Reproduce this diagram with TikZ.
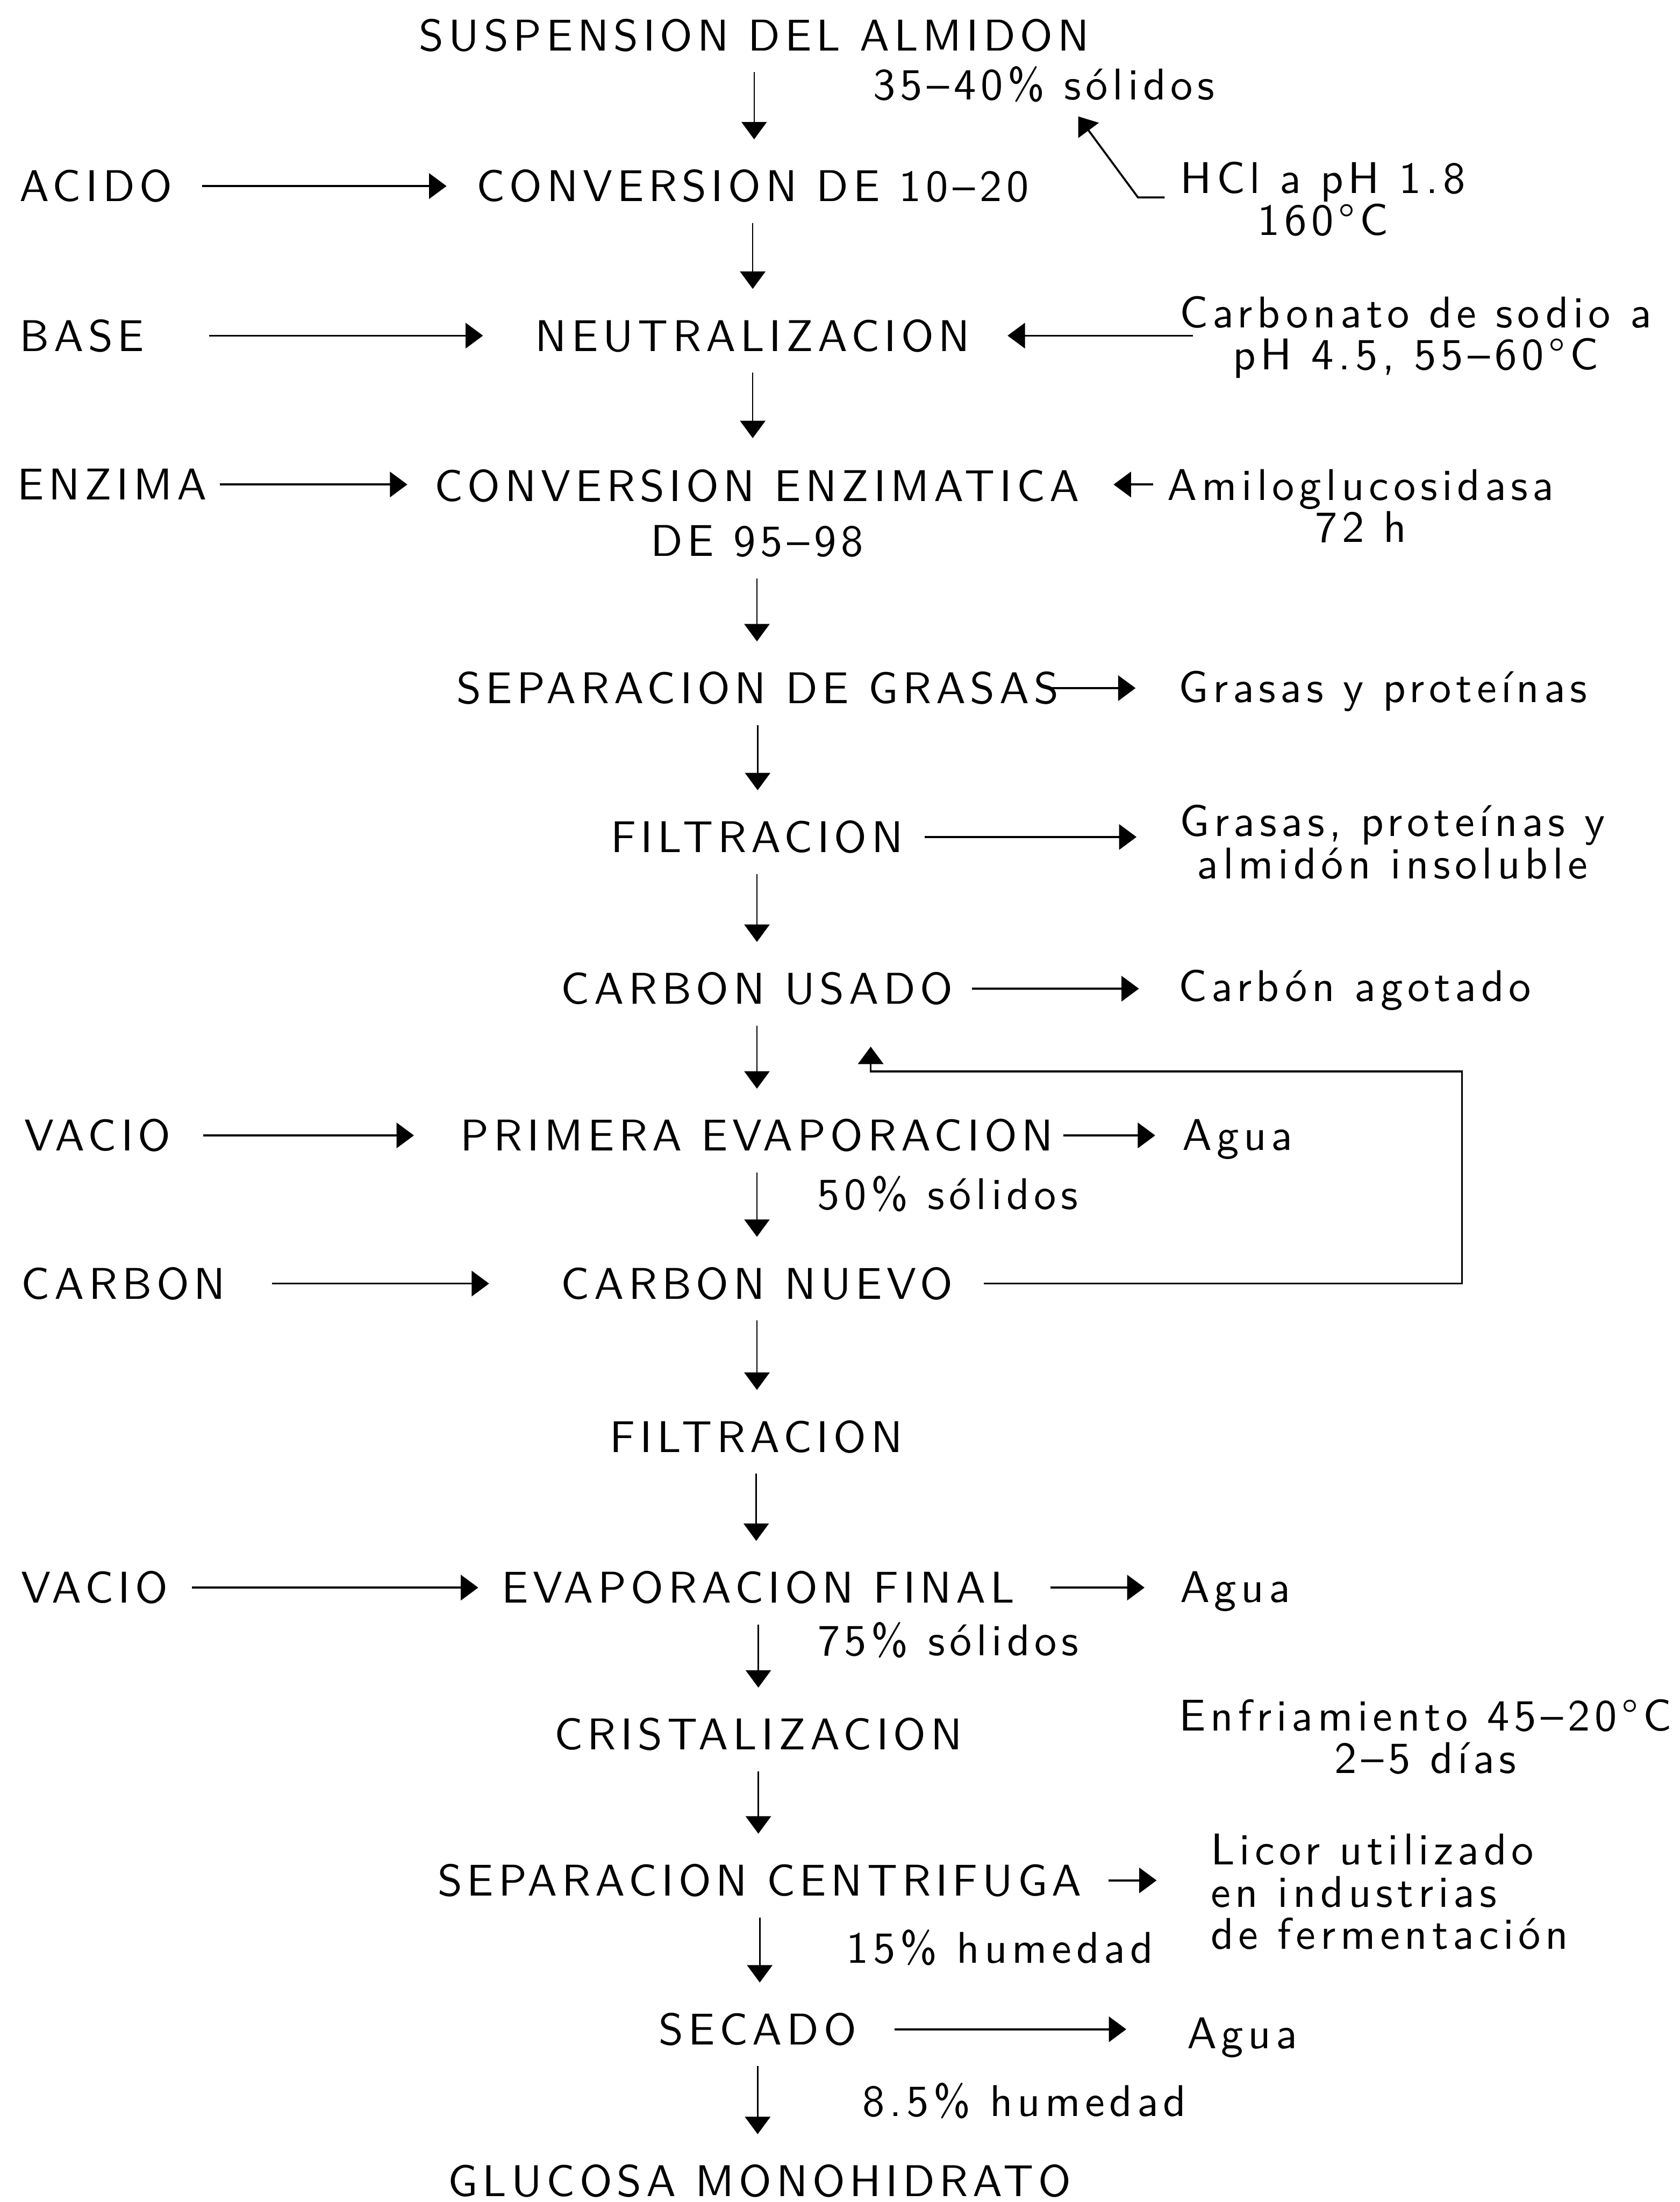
\documentclass[tikz,border=0pt]{standalone}
\usepackage{fontspec}
\setmainfont{lmsans10-regular.otf}[LetterSpace=10.5]
\usetikzlibrary{arrows.meta}

\begin{document}
\begin{tikzpicture}[x=0.025cm, y=-0.025cm,
    font=\fontsize{22.5pt}{21.3pt}\selectfont,
    proc/.style={inner sep=0pt, text height=0.55cm, text depth=0pt, anchor=base},
    feed/.style={inner sep=0pt, text height=0.55cm, text depth=0pt, anchor=base west},
    note/.style={inner sep=0pt, text height=0.55cm, text depth=0pt, anchor=base west},
    notes/.style={inner sep=0pt, align=center, anchor=north},
    flow/.style={line width=1pt, -{Triangle[length=0.31cm, width=0.45cm]}},
    down/.style={flow, line width=0.7pt, shorten <=0.375cm, shorten >=0.55cm}]

            \useasboundingbox (0,0) rectangle (1196,1568);

            \node[proc] (susp) at (537,36) {SUSPENSION DEL ALMIDON};
            \node[proc] (conv) at (536,143.5) {CONVERSION DE 10–20};
            \node[proc] (neut) at (536,250) {NEUTRALIZACION};
            \node[notes, font=\fontsize{22.5pt}{27.7pt}\selectfont] (enz) at (539,334) {CONVERSION ENZIMATICA\\DE 95–98};
            \node[proc] (sepgr) at (539.5,501) {SEPARACION DE GRASAS};
            \node[proc] (filt1) at (539,607) {FILTRACION};
            \node[proc] (usado) at (539,715) {CARBON USADO};
            \node[proc] (evap1) at (539,819.5) {PRIMERA EVAPORACION};
            \node[proc] (nuevo) at (539,925) {CARBON NUEVO};
            \node[proc] (filt2) at (538.5,1034) {FILTRACION};
            \node[proc] (evapf) at (540,1141.5) {EVAPORACION FINAL};
            \node[proc] (crist) at (540,1246) {CRISTALIZACION};
            \node[proc] (centr) at (541,1350) {SEPARACION CENTRIFUGA};
            \node[proc] (secado) at (539.5,1456) {SECADO};
            \node[proc] (gluc) at (541,1564) {GLUCOSA MONOHIDRATO};

            \node[feed] (acido) at (13.7,143.5) {ACIDO};
            \node[feed] (base) at (13.7,250) {BASE};
            \node[feed] (enzima) at (12,356) {ENZIMA};
            \node[feed] (vacio1) at (17,819.5) {VACIO};
            \node[feed] (carbon) at (15,925) {CARBON};
            \node[feed] (vacio2) at (15,1141.5) {VACIO};

            \node[note] (sol1) at (621.5,71) {35–40\% sólidos};
            \node[notes] (hcl) at (942,115) {HCl a pH 1.8\\160°C};
            \node[notes] (carb) at (1008,210.7) {Carbonato de sodio a\\pH 4.5, 55–60°C};
            \node[notes] (amilo) at (969,334) {Amiloglucosidasa\\72 h};
            \node[note] (gyp) at (839,500) {Grasas y proteínas};
            \node[notes] (gpa) at (991.5,573) {Grasas, proteínas y\\almidón insoluble};
            \node[note] (cago) at (839,713) {Carbón agotado};
            \node[note] (agua1) at (841.6,819) {Agua};
            \node[note] (sol2) at (581.7,861) {50\% sólidos};
            \node[note] (agua2) at (840,1141) {Agua};
            \node[note] (sol3) at (582,1179) {75\% sólidos};
            \node[notes] (enfr) at (1015,1210) {Enfriamiento 45–20°C\\2–5 días};
            \node[notes, align=left, anchor=north west] (licor) at (862,1305.7) {Licor utilizado\\en industrias\\de fermentación};
            \node[note] (hum1) at (602.5,1398) {15\% humedad};
            \node[note] (agua3) at (845,1458.7) {Agua};
            \node[note] (hum2) at (614,1507) {8.5\% humedad};

            \coordinate (enzmid) at ([yshift=-0.275cm]enz.north);
            \coordinate (loop) at (1041,763);

            \draw[down] (susp.south) -- (susp.south |- conv.north);
            \draw[down] (conv.south) -- (conv.south |- neut.north);
            \draw[down] (neut.south) -- (neut.south |- enz.north);
            \draw[down] (enz.south) -- (enz.south |- sepgr.north);
            \draw[down] (sepgr.south) -- (sepgr.south |- filt1.north);
            \draw[down] (filt1.south) -- (filt1.south |- usado.north);
            \draw[down] (usado.south) -- (usado.south |- evap1.north);
            \draw[down] (evap1.south) -- (evap1.south |- nuevo.north);
            \draw[down] (nuevo.south) -- (nuevo.south |- filt2.north);
            \draw[down] (filt2.south) -- (filt2.south |- evapf.north);
            \draw[down] (evapf.south) -- (evapf.south |- crist.north);
            \draw[down] (crist.south) -- (crist.south |- centr.north);
            \draw[down] (centr.south) -- (centr.south |- secado.north);
            \draw[down] (secado.south) -- (secado.south |- gluc.north);

            \draw[flow, shorten <=0.525cm, shorten >=0.525cm] (acido.east) -- (conv.west);
            \draw[flow, shorten <=1.15cm, shorten >=0.925cm] (base.east) -- (neut.west);
            \draw[flow, shorten <=0.225cm, shorten >=0.475cm] (enzima.east) -- (enzima.east -| enz.west);
            \draw[flow, shorten <=0.575cm, shorten >=0.825cm] (vacio1.east) -- (evap1.west);
            \draw[flow, shorten <=0.825cm, shorten >=1.275cm] (carbon.east) -- (nuevo.west);
            \draw[flow, shorten <=0.425cm, shorten >=0.415cm] (vacio2.east) -- (evapf.west);

            \draw[flow] ([xshift=-0.275cm,yshift=-0.64cm]hcl.north west) -- ++(-19,0) -- ([xshift=0.61cm,yshift=-0.29cm]sol1.south);
            \draw[flow, shorten <=-0.25cm, shorten >=0.66cm] (neut.east -| carb.west) -- (neut.east);
            \draw[flow, shorten <=0.25cm, shorten >=0.6cm] (enzmid -| amilo.west) -- (enzmid -| enz.east);
            \draw[flow, shorten <=-0.2cm, shorten >=0.76cm] (sepgr.east) -- (sepgr.east -| gyp.west);
            \draw[flow, shorten <=0.375cm, shorten >=0.76cm] (filt1.east) -- (filt1.east -| gpa.west);
            \draw[flow, shorten <=0.335cm, shorten >=0.7cm] (usado.east) -- (usado.east -| cago.west);
            \draw[flow, shorten <=0.17cm, shorten >=0.475cm] (evap1.east) -- (evap1.east -| agua1.west);
            \draw[flow, shorten <=0.625cm, shorten >=0.625cm] (evapf.east) -- (evapf.east -| agua2.west);
            \draw[flow, shorten <=0.475cm, shorten >=0.96cm] (centr.east) -- (centr.east -| licor.west);
            \draw[flow, shorten <=0.675cm, shorten >=1.075cm] (secado.east) -- (secado.east -| agua3.west);

            \draw[flow, shorten <=0.55cm, shorten >=0.75cm] (nuevo.east) -| (loop) -| ([xshift=2.025cm]usado.south);

\end{tikzpicture}
\end{document}
